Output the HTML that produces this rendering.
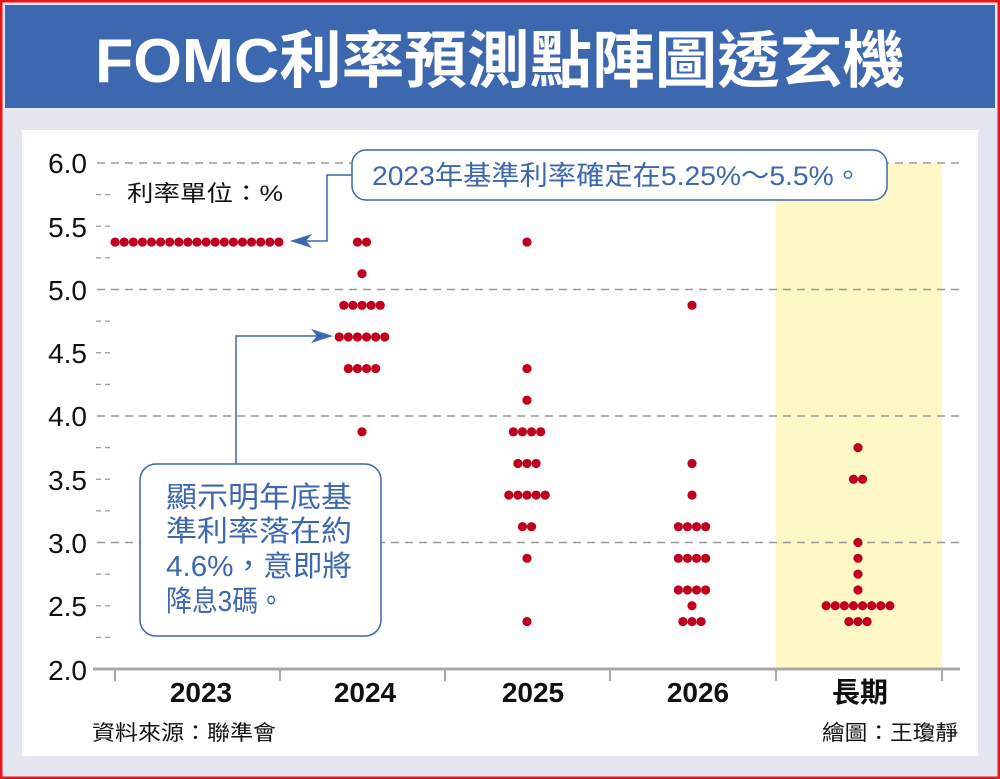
<!DOCTYPE html>
<html><head><meta charset="utf-8"><style>
html,body{margin:0;padding:0;background:#fff;}
svg{display:block;}
</style></head><body>
<svg id="s" width="1000" height="779" xmlns="http://www.w3.org/2000/svg" font-family="Liberation Sans, Noto Sans CJK TC, sans-serif">
<rect x="0" y="0" width="1000" height="779" fill="#e4e7f1"/>
<rect x="1" y="1" width="998" height="777" fill="none" stroke="#e8141c" stroke-width="3"/>
<rect x="5" y="5" width="990" height="103" fill="#3d67ae"/>
<text x="95" y="82" textLength="810" lengthAdjust="spacingAndGlyphs" font-size="62" font-weight="bold" fill="#fff">FOMC利率預測點陣圖透玄機</text>
<rect x="22" y="130" width="956" height="626" fill="#fff"/>
<rect x="776" y="163" width="166" height="506" fill="#fdf8c6"/>
<g stroke="#9a9a9a" stroke-width="1.5" stroke-dasharray="8,6">
<line x1="97" y1="163" x2="960" y2="163"/><line x1="97" y1="289.5" x2="960" y2="289.5"/>
<line x1="97" y1="416" x2="960" y2="416"/><line x1="97" y1="542.5" x2="960" y2="542.5"/>
</g>
<g id="minor" stroke="#9a9a9a" stroke-width="1.2" stroke-dasharray="5,4"></g>
<line x1="93" y1="669" x2="960" y2="669" stroke="#a8a8a8" stroke-width="3"/>
<g stroke="#a8a8a8" stroke-width="2">
<line x1="115" y1="669" x2="115" y2="681"/><line x1="280" y1="669" x2="280" y2="681"/><line x1="445" y1="669" x2="445" y2="681"/><line x1="610" y1="669" x2="610" y2="681"/><line x1="776" y1="669" x2="776" y2="681"/><line x1="942" y1="669" x2="942" y2="681"/>
</g>
<g font-size="28" fill="#111" text-anchor="end">
<text x="87" y="173">6.0</text><text x="87" y="237">5.5</text><text x="87" y="300">5.0</text><text x="87" y="363">4.5</text><text x="87" y="426">4.0</text><text x="87" y="490">3.5</text><text x="87" y="553">3.0</text><text x="87" y="616">2.5</text><text x="87" y="680">2.0</text>
</g>
<g font-size="28" fill="#111" text-anchor="middle" font-weight="bold">
<text x="201" y="702">2023</text><text x="365" y="702">2024</text><text x="533" y="702">2025</text><text x="698" y="702">2026</text><text x="860" y="702">長期</text>
</g>
<text x="127" y="201" font-size="22" fill="#111" textLength="156" lengthAdjust="spacingAndGlyphs">利率單位：%</text>
<text x="92" y="740" font-size="21" fill="#111" textLength="184" lengthAdjust="spacingAndGlyphs">資料來源：聯準會</text>
<text x="822" y="740" font-size="21" fill="#111" textLength="136" lengthAdjust="spacingAndGlyphs">繪圖：王瓊靜</text>
<g id="dots" fill="#c0001f"></g>
<rect x="352" y="150" width="535" height="50" rx="14" fill="#fff" stroke="#3d67ae" stroke-width="1.5"/>
<text x="372" y="185" font-size="27" fill="#3d67ae" textLength="490" lengthAdjust="spacingAndGlyphs">2023年基準利率確定在5.25%～5.5%。</text>
<polyline points="352,175 327,175 327,241 300,241" fill="none" stroke="#3d67ae" stroke-width="1.5"/>
<polygon points="290,241 312,234 306,241 312,248" fill="#3d67ae"/>
<rect x="140" y="464" width="241" height="172" rx="16" fill="#fff" stroke="#3d67ae" stroke-width="1.5"/>
<polyline points="236,464 236,336 322,336" fill="none" stroke="#3d67ae" stroke-width="1.5"/>
<polygon points="333,336 311,329 317,336 311,343" fill="#3d67ae"/>
<g font-size="29" fill="#3d67ae">
<text x="166" y="507" textLength="186" lengthAdjust="spacingAndGlyphs">顯示明年底基</text><text x="166" y="541" textLength="186" lengthAdjust="spacingAndGlyphs">準利率落在約</text><text x="166" y="576" textLength="186" lengthAdjust="spacingAndGlyphs">4.6%，意即將</text><text x="166" y="611" textLength="118" lengthAdjust="spacingAndGlyphs">降息3碼。</text>
</g>
</svg>
<script>
var ns="http://www.w3.org/2000/svg";
function Y(v){return 163+(6-v)*126.5;}
var m=document.getElementById("minor");
for(var v=2.25;v<6;v+=0.25){if(Math.abs(v*2-Math.round(v*2))<0.01)continue;var l=document.createElementNS(ns,"line");l.setAttribute("x1",96);l.setAttribute("x2",112);l.setAttribute("y1",Y(v));l.setAttribute("y2",Y(v));m.appendChild(l);}
for(var v=2.5;v<6;v+=1){var l=document.createElementNS(ns,"line");l.setAttribute("x1",96);l.setAttribute("x2",112);l.setAttribute("y1",Y(v));l.setAttribute("y2",Y(v));m.appendChild(l);}
var data=[[197,[[5.375,19]]],[362,[[5.375,2],[5.125,1],[4.875,5],[4.625,6],[4.375,4],[3.875,1]]],[527,[[5.375,1],[4.375,1],[4.125,1],[3.875,4],[3.625,3],[3.375,5],[3.125,2],[2.875,1],[2.375,1]]],[692,[[4.875,1],[3.625,1],[3.375,1],[3.125,4],[2.875,4],[2.625,4],[2.5,1],[2.375,3]]],[858,[[3.75,1],[3.5,2],[3.0,1],[2.875,1],[2.75,1],[2.625,1],[2.5,8],[2.375,3]]]];
var g=document.getElementById("dots");
data.forEach(function(c){c[1].forEach(function(r){var n=r[1];for(var i=0;i<n;i++){var e=document.createElementNS(ns,"circle");e.setAttribute("cx",c[0]+(i-(n-1)/2)*9.1);e.setAttribute("cy",Y(r[0]));e.setAttribute("r",4.6);g.appendChild(e);}});});
</script>
</body></html>
